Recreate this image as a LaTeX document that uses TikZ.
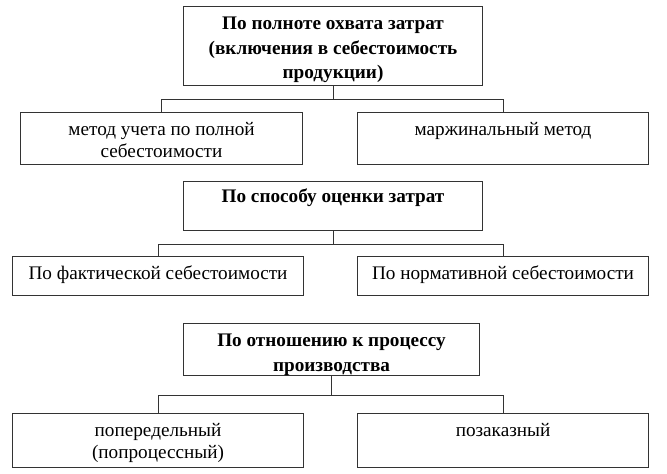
\documentclass[tikz,border=0pt]{standalone}
\usepackage{fontspec}
\setmainfont{Liberation Serif}
\usepackage{tikz}
\usetikzlibrary{positioning,calc}
\newlength\px
\setlength\px{0.75pt}
\newcommand{\cellbox}[4][17.5pt]{\parbox[t][#3\px][t]{#2\px}{\centering\rule{0pt}{#1}#4}}

\begin{document}
\begin{tikzpicture}[
    x=0.75pt, y=-0.75pt,
    every node/.style={font=\fontsize{14.4pt}{16.5pt}\selectfont},
    head/.style={rectangle, draw=black!80, line width=0.8pt, inner sep=0pt, anchor=north west, font=\fontsize{14.4pt}{18.4pt}\selectfont\bfseries},
    item/.style={rectangle, draw=black!80, line width=0.8pt, inner sep=0pt, anchor=north west},
    link/.style={draw=black!80, line width=0.8pt}
]
\useasboundingbox (0,0) rectangle (667,474);

% Group 1 - by completeness of cost coverage
\node[head] (fullness) at (183,6) {\cellbox{299}{79}{По полноте охвата затрат\\(включения в себестоимость\\продукции)}};
\node[item] (absorption) at (20,112) {\cellbox{282}{52}{метод учета по полной\\себестоимости}};
\node[item] (marginal) at (357,112) {\cellbox{291}{52}{маржинальный метод}};

% Group 2 - by cost valuation
\node[head] (valuation) at (183,181) {\cellbox[15.75pt]{299}{49}{По способу оценки затрат}};
\node[item] (actual) at (12,256) {\cellbox{291}{39}{По фактической себестоимости}};
\node[item] (standard) at (357,256) {\cellbox{291}{39}{По нормативной себестоимости}};

% Group 3 - by relation to production
\node[head] (production) at (183,323) {\cellbox{296}{52}{По отношению к процессу\\производства}};
\node[item] (process) at (12,413) {\cellbox{291}{54}{попередельный\\(попроцессный)}};
\node[item] (joborder) at (357,413) {\cellbox{291}{54}{позаказный}};

% Connectors
\draw[link] (fullness.south) -- ++(0,13) coordinate (j1);
\draw[link] (absorption.north) |- (j1) -| (marginal.north);

\draw[link] (valuation.south) -- ++(0,13) coordinate (j2);
\draw[link] (actual.north) |- (j2) -| (standard.north);

\draw[link] (production.south) -- ++(0,19) coordinate (j3);
\draw[link] (process.north) |- (j3) -| (joborder.north);

\end{tikzpicture}
\end{document}
